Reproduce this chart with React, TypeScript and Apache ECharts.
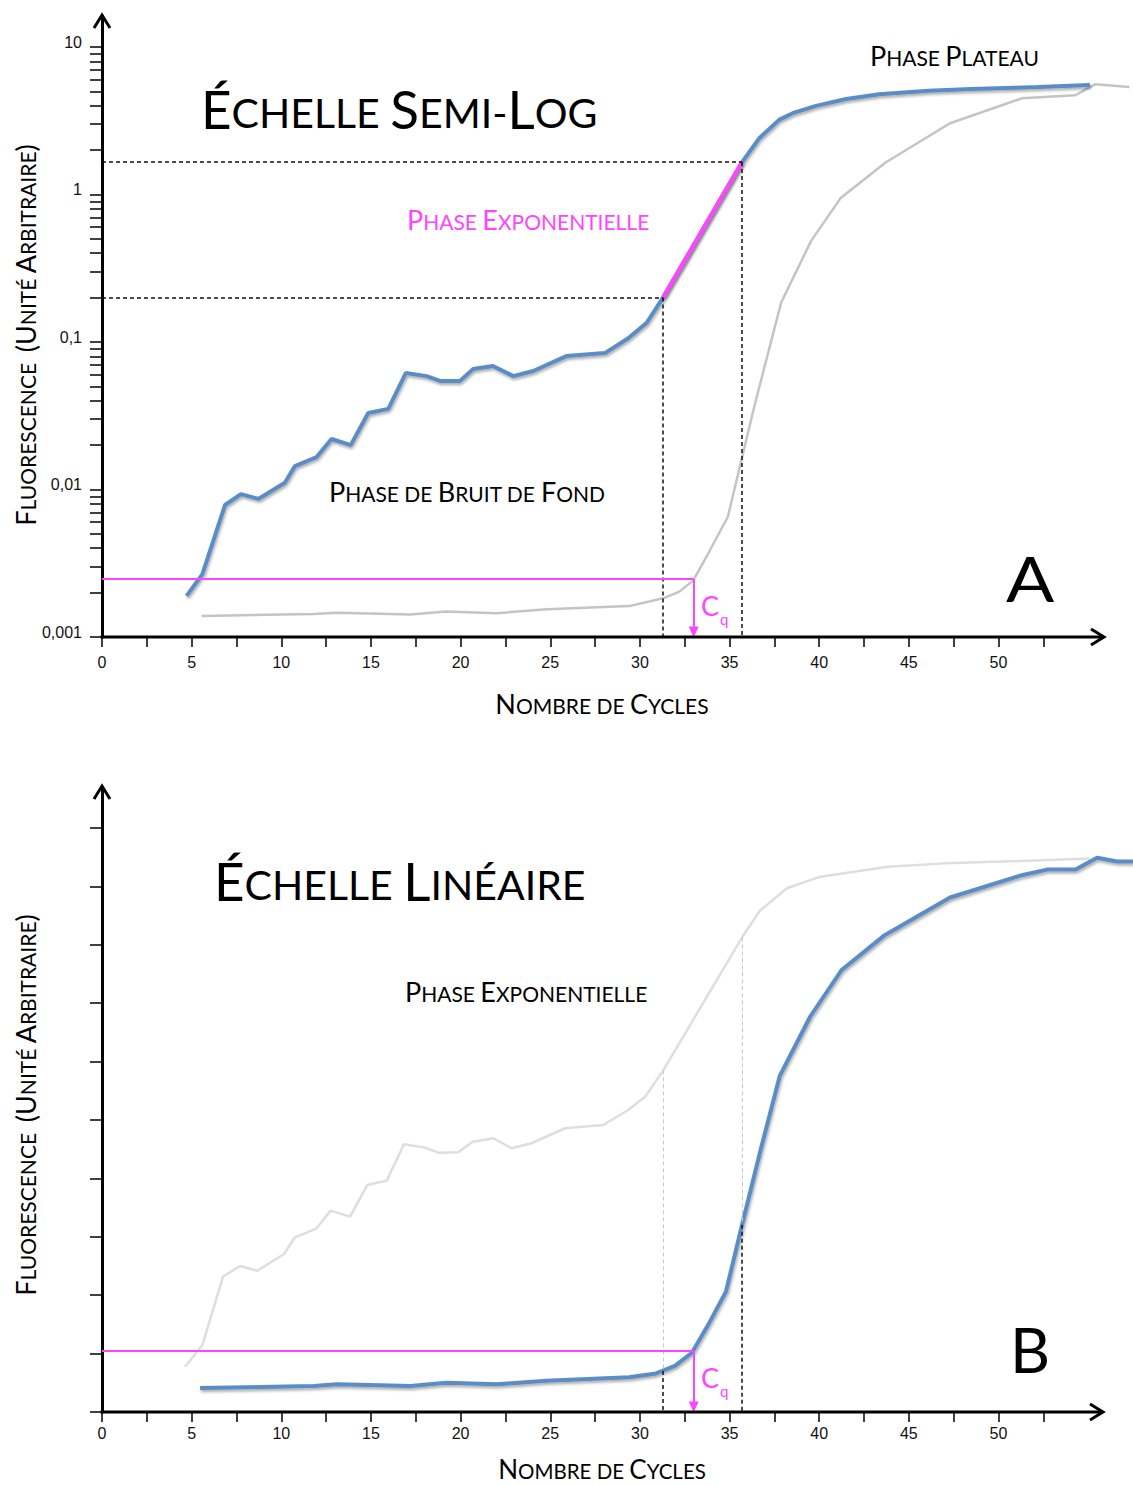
import React, { useEffect, useRef } from 'react';
import * as echarts from 'echarts';

// ---------- DATA ----------
// Panel A (semi-log scale)
const cycTopBlue = [4.72, 5.6, 6.86, 7.75, 8.72, 10.2, 10.76, 11.97, 12.8, 13.87, 14.85, 15.97, 16.95, 18.1, 18.85, 19.97, 20.7, 21.8, 22.94, 24.05, 25.9, 28.05, 29.35, 30.38, 31.29, 35.7, 36.67, 37.78, 38.52, 39.82, 41.5, 43.35, 46.1, 48.5, 52.2, 55.1];
const fluoTopBlue = [0.0019, 0.00267, 0.00785, 0.0093, 0.00863, 0.0111, 0.0144, 0.0166, 0.022, 0.02, 0.033, 0.0352, 0.0617, 0.0587, 0.0545, 0.0545, 0.0656, 0.0687, 0.0587, 0.0636, 0.0803, 0.0841, 0.106, 0.135, 0.2, 1.66, 2.42, 3.22, 3.56, 3.99, 4.44, 4.79, 5.05, 5.19, 5.35, 5.53];
const cycTopGrey = [5.56, 11.8, 13.1, 17.2, 19.2, 22.0, 24.8, 29.4, 31.3, 32.2, 32.98, 33.9, 34.9, 35.75, 36.4, 37.88, 39.55, 41.2, 43.7, 47.3, 51.3, 54.28, 55.4, 57.3];
const fluoTopGrey = [0.00139, 0.00143, 0.00146, 0.00142, 0.00149, 0.00145, 0.00154, 0.00162, 0.00183, 0.00203, 0.00242, 0.00386, 0.00651, 0.01754, 0.0374, 0.1855, 0.485, 0.947, 1.648, 3.04, 4.49, 4.71, 5.6, 5.36];
const expPhaseCycles = [31.29, 35.7];
const expPhaseFluo = [0.2, 1.66];
const thresholdLog = 0.00247;

// Panel B (linear scale)
const cycBotBlue = [5.47, 11.8, 13.1, 17.2, 19.2, 22.0, 24.8, 29.4, 30.9, 31.95, 32.9, 33.8, 34.8, 35.7, 36.7, 37.8, 39.5, 41.25, 43.6, 47.3, 51.3, 52.7, 54.3, 55.5, 56.6, 57.5];
const fluoBotBlue = [0.41, 0.445, 0.474, 0.445, 0.502, 0.474, 0.536, 0.594, 0.66, 0.79, 1.015, 1.488, 2.06, 3.205, 4.447, 5.753, 6.771, 7.567, 8.152, 8.808, 9.19, 9.286, 9.286, 9.49, 9.425, 9.425];
const cycBotGrey = [4.63, 5.6, 6.75, 7.7, 8.66, 10.15, 10.76, 11.93, 12.75, 13.83, 14.8, 15.88, 16.84, 18.01, 18.76, 19.87, 20.67, 21.82, 22.84, 23.96, 25.82, 27.96, 29.35, 30.3, 31.3, 35.7, 36.7, 38.2, 40.0, 43.8, 47.5, 51.2, 55.1];
const fluoBotGrey = [0.776, 1.147, 2.317, 2.5, 2.419, 2.705, 2.991, 3.134, 3.447, 3.344, 3.887, 3.961, 4.584, 4.526, 4.44, 4.447, 4.628, 4.687, 4.515, 4.601, 4.858, 4.914, 5.171, 5.402, 5.848, 8.127, 8.586, 8.967, 9.158, 9.336, 9.401, 9.432, 9.476];
const blueAtExpBounds = [0.7, 3.205];
const greyAtExpBounds = [5.848, 8.127];
const thresholdLin = 1.045;
const cqCycle = 33.0;

// Ticks / labels
const xTickValues = [0, 2.5, 5, 7.5, 10, 12.5, 15, 17.5, 20, 22.5, 25, 27.5, 30, 32.5, 35, 37.5, 40, 42.5, 45, 47.5, 50, 52.5];
const xLabelValues = [0, 5, 10, 15, 20, 25, 30, 35, 40, 45, 50];
const logTickValues = [
  0.001, 0.002, 0.003, 0.004, 0.005, 0.006, 0.007, 0.008, 0.009,
  0.01, 0.02, 0.03, 0.04, 0.05, 0.06, 0.07, 0.08, 0.09,
  0.1, 0.2, 0.3, 0.4, 0.5, 0.6, 0.7, 0.8, 0.9,
  1, 2, 3, 4, 5, 6, 7, 8, 9, 10,
];
const logLabelValues = [0.001, 0.01, 0.1, 1, 10];
const logLabelTexts = ['0,001', '0,01', '0,1', '1', '10'];
const linTickValues = [0, 1, 2, 3, 4, 5, 6, 7, 8, 9, 10];

// ---------- STYLE ----------
const FONT = 'Lato';
const NUM_FONT = 'Liberation Sans';
const BLUE = '#5a8dc6';
const GREY_A = '#c4c4c4';
const GREY_B = '#dedede';
const MAGENTA = '#ff44ff';
const X_MAX = 57.5; // plotting extent (the drawn axis stops at ~55.7 with its arrow)
const LOG_MIN = 0.001;
const LOG_MAX = 16.23;
const LIN_MAX = 10.70;
const PX_PER_CYCLE = 17.93;

const pairs = (xs: number[], ys: number[]) => xs.map((x, i) => [x, ys[i]]);

function smallCaps(s: string) {
  const parts: string[] = [];
  let cur = '';
  let kind = '';
  for (const ch of Array.from(s)) {
    const big = ch !== ch.toLowerCase() || ch === '(' || ch === ')';
    const k = big ? 'b' : 's';
    if (k !== kind && cur) {
      parts.push(`{${kind}|${cur}}`);
      cur = '';
    }
    kind = k;
    cur += ch.toUpperCase();
  }
  if (cur) parts.push(`{${kind}|${cur}}`);
  return parts.join('');
}

function scText(text: string, x: number, y: number, big: number, small: number, color: string, opts: any = {}) {
  const pad = Math.round((big - small) * 0.17);
  const align = opts.align || 'left';
  return {
    type: 'text',
    x,
    y,
    z: 100,
    rotation: opts.rotation || 0,
    silent: true,
    style: {
      text: smallCaps(text),
      align,
      verticalAlign: 'middle',
      textAlign: align,
      textVerticalAlign: 'middle',
      fill: color,
      rich: {
        b: { fontFamily: FONT, fontSize: big, fill: color, verticalAlign: 'bottom' },
        s: { fontFamily: FONT, fontSize: small, fill: color, verticalAlign: 'bottom', padding: [0, 0, pad, 0] },
      },
    },
  };
}

function plainText(text: string, x: number, y: number, size: number, color: string, scaleX = 1) {
  return {
    type: 'text',
    x,
    y,
    z: 100,
    scaleX,
    silent: true,
    style: {
      text,
      fontFamily: FONT,
      fontSize: size,
      fill: color,
      align: 'left',
      verticalAlign: 'middle',
      textAlign: 'left',
      textVerticalAlign: 'middle',
    },
  };
}

function chevron(points: number[][]) {
  return {
    type: 'polyline',
    z: 100,
    silent: true,
    shape: { points },
    style: { stroke: '#000', lineWidth: 3, fill: null, lineJoin: 'miter' },
  };
}

function axisBar(x1: number, y: number, x2: number) {
  return {
    type: 'line',
    z: 99,
    silent: true,
    shape: { x1, y1: y, x2, y2: y },
    style: { stroke: '#000', lineWidth: 3 },
  };
}

const dashBlack = { color: '#111', width: 1.5, type: [4, 3] };
const dashGrey = { color: '#c8c8c8', width: 1, type: [4, 3] };
const magentaLine = { color: MAGENTA, width: 2, type: 'solid' };
const shadow = { shadowColor: 'rgba(0,0,0,0.35)', shadowBlur: 3, shadowOffsetX: 1, shadowOffsetY: 2 };
const numLabel = { fontFamily: NUM_FONT, fontSize: 16, color: '#111' };

function xAxisCfg(gridIndex: number, labelMargin: number) {
  return {
    type: 'value',
    gridIndex,
    min: 0,
    max: X_MAX,
    splitLine: { show: false },
    axisLine: { show: false, onZero: false },
    axisTick: { show: true, customValues: xTickValues, length: 10, inside: false, lineStyle: { color: '#000', width: 1.5 } },
    axisLabel: { show: true, customValues: xLabelValues, margin: labelMargin, ...numLabel },
  };
}

export default function App() {
  const ref = useRef<HTMLDivElement>(null);

  useEffect(() => {
    if (!ref.current) return;
    const chart = echarts.init(ref.current, undefined, { renderer: 'svg' });
    const gridWidth = X_MAX * PX_PER_CYCLE;

    const option: any = {
      animation: false,
      backgroundColor: '#ffffff',
      grid: [
        { left: 102, top: 16, width: gridWidth, height: 621 },
        { left: 102, top: 787, width: gridWidth, height: 625 },
      ],
      xAxis: [xAxisCfg(0, 17), xAxisCfg(1, 13)],
      yAxis: [
        { type: 'log', gridIndex: 0, position: 'left', logBase: 10, min: LOG_MIN, max: LOG_MAX, show: false },
        {
          type: 'value',
          gridIndex: 0,
          position: 'left',
          min: Math.log10(LOG_MIN),
          max: Math.log10(LOG_MAX),
          splitLine: { show: false },
          axisLine: { show: true, onZero: false, lineStyle: { color: '#000', width: 3 } },
          axisTick: { show: true, customValues: logTickValues.map((v) => Math.log10(v)), length: 12, inside: false, lineStyle: { color: '#000', width: 1.5 } },
          axisLabel: {
            show: true,
            customValues: logLabelValues.map((v) => Math.log10(v)),
            margin: 20,
            ...numLabel,
            verticalAlign: 'bottom',
            lineHeight: 10,
            formatter: (v: number) => {
              const i = logLabelValues.findIndex((l) => Math.abs(Math.log10(l) - v) < 1e-6);
              return i >= 0 ? logLabelTexts[i] : '';
            },
          },
        },
        {
          type: 'value',
          gridIndex: 1,
          position: 'left',
          min: 0,
          max: LIN_MAX,
          splitLine: { show: false },
          axisLine: { show: true, onZero: false, lineStyle: { color: '#000', width: 3 } },
          axisTick: { show: true, customValues: linTickValues, length: 12, inside: false, lineStyle: { color: '#000', width: 1.5 } },
          axisLabel: { show: false },
        },
      ],
      series: [
        {
          name: 'A gris',
          type: 'line',
          xAxisIndex: 0,
          yAxisIndex: 0,
          data: pairs(cycTopGrey, fluoTopGrey),
          symbol: 'none',
          z: 2,
          lineStyle: { color: GREY_A, width: 2.5 },
        },
        {
          name: 'A',
          type: 'line',
          xAxisIndex: 0,
          yAxisIndex: 0,
          data: pairs(cycTopBlue, fluoTopBlue),
          symbol: 'none',
          z: 3,
          lineStyle: { color: BLUE, width: 4, ...shadow },
        },
        {
          name: 'Phase exponentielle',
          type: 'line',
          xAxisIndex: 0,
          yAxisIndex: 0,
          data: pairs(expPhaseCycles, expPhaseFluo),
          symbol: 'none',
          z: 4,
          lineStyle: { color: MAGENTA, width: 4, ...shadow },
          markLine: {
            silent: true,
            animation: false,
            symbol: ['none', 'none'],
            label: { show: false },
            data: [
              [{ coord: [0, expPhaseFluo[0]], lineStyle: dashBlack }, { coord: [expPhaseCycles[0], expPhaseFluo[0]] }],
              [{ coord: [expPhaseCycles[0], expPhaseFluo[0]], lineStyle: dashBlack }, { coord: [expPhaseCycles[0], LOG_MIN] }],
              [{ coord: [0, expPhaseFluo[1]], lineStyle: dashBlack }, { coord: [expPhaseCycles[1], expPhaseFluo[1]] }],
              [{ coord: [expPhaseCycles[1], expPhaseFluo[1]], lineStyle: dashBlack }, { coord: [expPhaseCycles[1], LOG_MIN] }],
              [{ coord: [0, thresholdLog], lineStyle: magentaLine }, { coord: [cqCycle, thresholdLog] }],
              [
                { coord: [cqCycle, thresholdLog], lineStyle: magentaLine },
                { coord: [cqCycle, 0.00108], symbol: 'triangle', symbolSize: [10, 11], itemStyle: { color: MAGENTA } },
              ],
            ],
          },
        },
        {
          name: 'B gris',
          type: 'line',
          xAxisIndex: 1,
          yAxisIndex: 2,
          data: pairs(cycBotGrey, fluoBotGrey),
          symbol: 'none',
          z: 2,
          lineStyle: { color: GREY_B, width: 2.5 },
        },
        {
          name: 'B',
          type: 'line',
          xAxisIndex: 1,
          yAxisIndex: 2,
          data: pairs(cycBotBlue, fluoBotBlue),
          symbol: 'none',
          z: 3,
          lineStyle: { color: BLUE, width: 4, ...shadow },
          markLine: {
            silent: true,
            animation: false,
            symbol: ['none', 'none'],
            label: { show: false },
            data: [
              [{ coord: [expPhaseCycles[0], greyAtExpBounds[0]], lineStyle: dashGrey }, { coord: [expPhaseCycles[0], blueAtExpBounds[0]] }],
              [{ coord: [expPhaseCycles[1], greyAtExpBounds[1]], lineStyle: dashGrey }, { coord: [expPhaseCycles[1], blueAtExpBounds[1]] }],
              [{ coord: [expPhaseCycles[0], blueAtExpBounds[0]], lineStyle: dashBlack }, { coord: [expPhaseCycles[0], 0] }],
              [{ coord: [expPhaseCycles[1], blueAtExpBounds[1]], lineStyle: dashBlack }, { coord: [expPhaseCycles[1], 0] }],
              [{ coord: [0, thresholdLin], lineStyle: magentaLine }, { coord: [cqCycle, thresholdLin] }],
              [
                { coord: [cqCycle, thresholdLin], lineStyle: magentaLine },
                { coord: [cqCycle, 0.086], symbol: 'triangle', symbolSize: [10, 11], itemStyle: { color: MAGENTA } },
              ],
            ],
          },
        },
      ],
      graphic: [
        // x axis bars (stop at the arrow) and arrow heads
        axisBar(100.5, 637, 1102),
        axisBar(100.5, 1412, 1102),
        chevron([[1091, 629], [1104, 637], [1091, 645]]),
        chevron([[94, 28], [102, 15], [110, 28]]),
        chevron([[1090, 1404], [1103, 1412], [1090, 1420]]),
        chevron([[94, 799], [102, 786], [110, 799]]),
        // Panel A texts
        scText('Échelle Semi-Log', 201, 108, 53, 41, '#000'),
        scText('Phase Plateau', 870, 55, 27, 21, '#000'),
        scText('Phase Exponentielle', 407, 219, 27, 21, MAGENTA),
        scText('Phase de Bruit de Fond', 329, 491, 27, 21, '#000'),
        scText('Fluorescence  (Unité Arbitraire)', 25, 335, 27, 21, '#000', { align: 'center', rotation: Math.PI / 2 }),
        scText('Nombre de Cycles', 602, 703, 27, 21, '#000', { align: 'center' }),
        plainText('A', 1006, 578, 62, '#000', 1.15),
        plainText('C', 701, 605, 27, MAGENTA),
        plainText('q', 720, 619, 15, MAGENTA),
        // Panel B texts
        scText('Échelle Linéaire', 214, 880, 53, 41, '#000'),
        scText('Phase Exponentielle', 405, 991, 27, 21, '#000'),
        scText('Fluorescence  (Unité Arbitraire)', 25, 1105, 27, 21, '#000', { align: 'center', rotation: Math.PI / 2 }),
        scText('Nombre de Cycles', 602, 1469, 26, 20.5, '#000', { align: 'center' }),
        plainText('B', 1010, 1349, 62, '#000'),
        plainText('C', 701, 1377, 27, MAGENTA),
        plainText('q', 720, 1391, 15, MAGENTA),
      ],
    };

    chart.setOption(option);
    return () => chart.dispose();
  }, []);

  return (
    <div
      ref={ref}
      style={{ position: 'absolute', left: 0, top: 0, width: 1133, height: 1486, background: '#fff' }}
    />
  );
}
